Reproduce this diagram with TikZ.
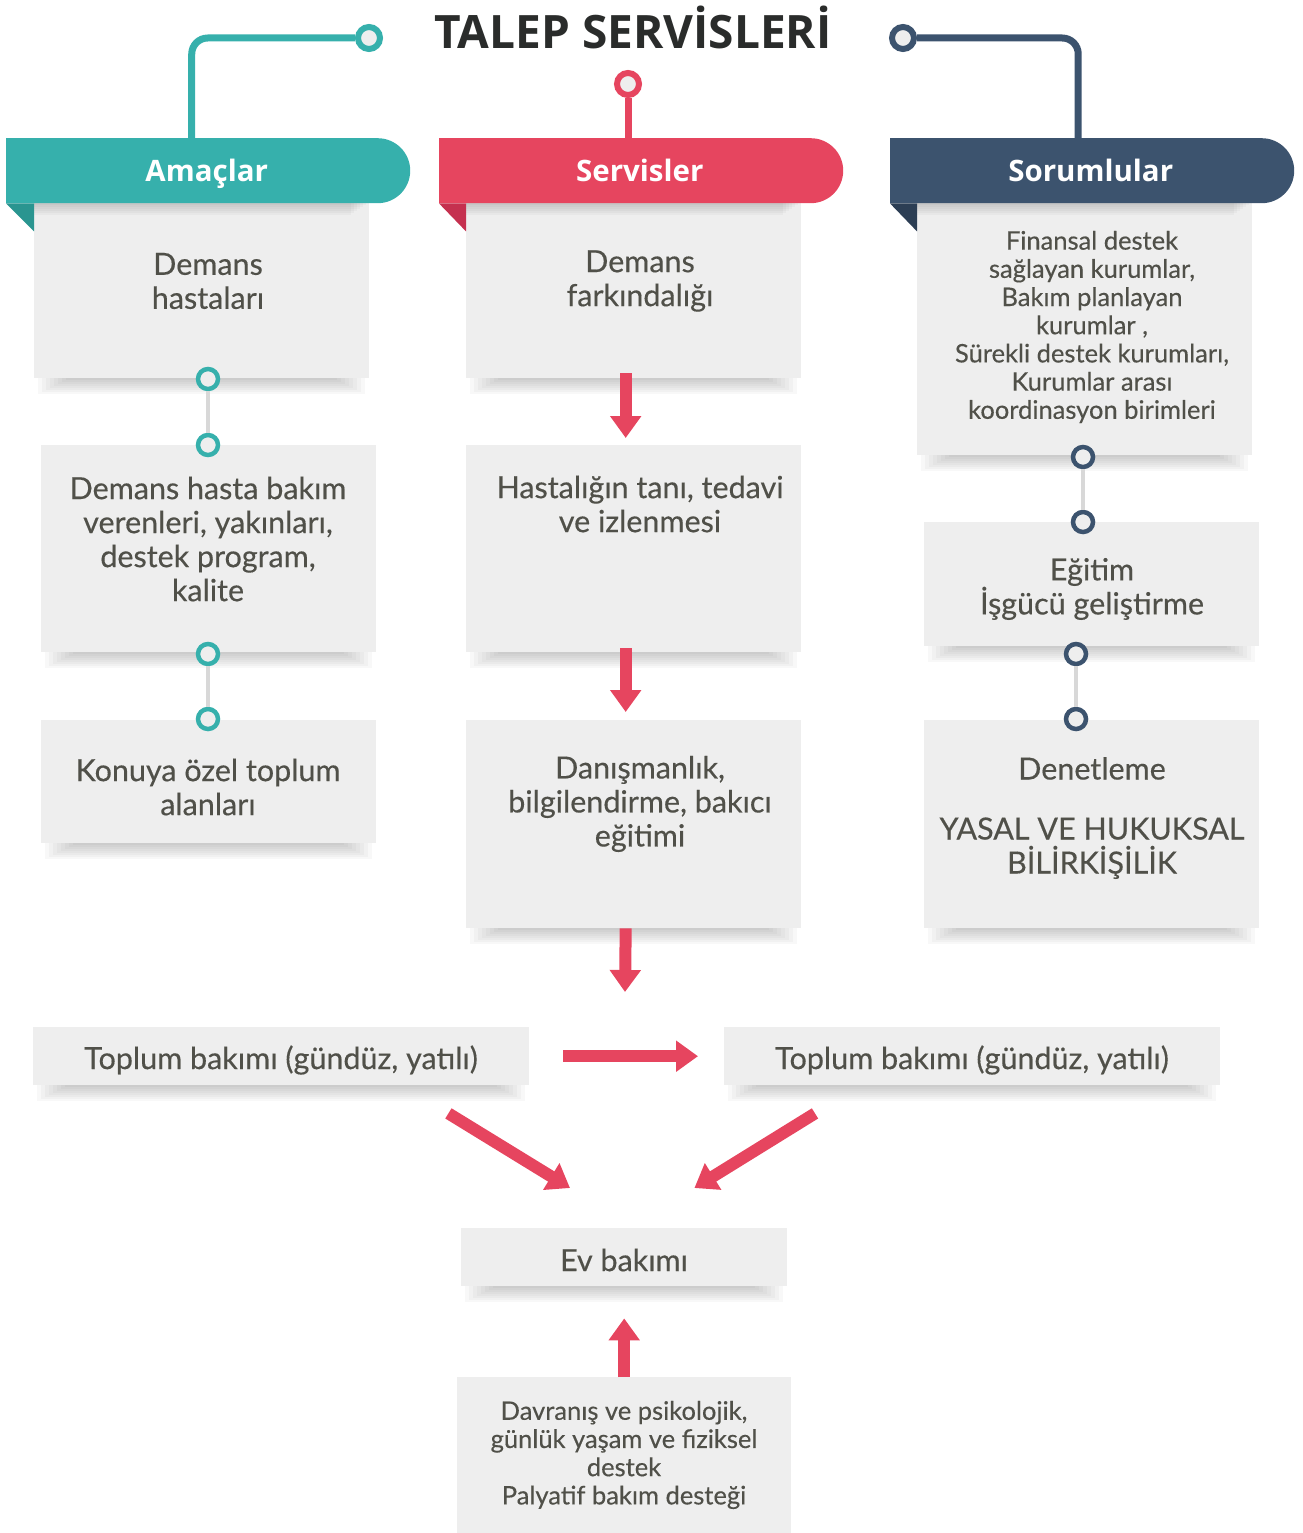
\documentclass[tikz,border=0pt]{standalone}
\usepackage{fontspec}
\setmainfont{Lato}
\newfontfamily\bodyfont{Lato}[FakeBold=0.35]
\newfontfamily\headfont{Open Sans}
\usetikzlibrary{positioning,arrows.meta,shapes.misc}

\definecolor{tealc}{HTML}{36B0AC}
\definecolor{tealdark}{HTML}{2A9590}
\definecolor{redc}{HTML}{E6455F}
\definecolor{reddark}{HTML}{C5304F}
\definecolor{navyc}{HTML}{3C536E}
\definecolor{navydark}{HTML}{2C3E54}
\definecolor{boxgray}{HTML}{EEEEEE}
\definecolor{textgray}{HTML}{505049}
\definecolor{linkgray}{HTML}{D8D8D8}
\definecolor{titlec}{HTML}{2A2C2B}

\tikzset{
  box/.style={fill=boxgray, anchor=north west, inner sep=0pt, minimum width=335pt},
  txt/.style={text=textgray, align=center, inner sep=0pt, font=\bodyfont\fontsize{30.5}{34}\selectfont},
  small txt/.style={txt, font=\bodyfont\fontsize{25.5}{28.2}\selectfont},
  tab/.style={rounded rectangle, rounded rectangle left arc=none, anchor=north west,
    minimum width=404pt, minimum height=65pt, inner sep=0pt, text=white,
    text height=24pt, text depth=3pt,
    font=\headfont\bfseries\fontsize{29.5}{36}\selectfont},
  ring/.style={circle, draw=#1, line width=4.5pt, fill=boxgray, minimum size=20pt, inner sep=0pt},
  top ring/.style={ring=#1, line width=6pt, minimum size=22pt},
  link/.style={draw=linkgray, line width=4pt},
  bigarrow/.style={draw=redc, line width=12pt, -{Triangle[width=30pt,length=22pt]}},
  shadowlayer/.style={fill=black, opacity=0.028},
}

% soft shadow under a box, built from stacked thin layers
\newcommand\shadowbelow[1]{%
  \foreach \i in {1,...,8}
    {\fill[shadowlayer] ([xshift={\i*4pt}]#1.south west) rectangle ([xshift={-\i*4pt},yshift={-(18-2*\i)*1pt}]#1.south east);}}
% shadow of a tab falling on the box top
\newcommand\shadowtop[1]{%
  \foreach \i in {1,...,6}
    {\fill[shadowlayer] (#1.north west) rectangle ([xshift={-\i*3pt},yshift={-(2*\i)*1pt}]#1.north east);}}

\begin{document}
\begin{tikzpicture}[x=1pt,y=-1pt]
  \useasboundingbox (0,0) rectangle (1302,1533);

  %% title
  \node[font=\headfont\bfseries\fontsize{46}{50}\selectfont, text=titlec] (title) at (633,27) {TALEP SERVİSLERİ};

  %% boxes
  \node[box, minimum height=175pt] (am1) at (34,203) {};
  \node[box, minimum height=207pt] (am2) at (41,445) {};
  \node[box, minimum height=123pt] (am3) at (41,720) {};
  \node[box, minimum height=175pt] (se1) at (466,203) {};
  \node[box, minimum height=207pt] (se2) at (466,445) {};
  \node[box, minimum height=208pt] (se3) at (466,720) {};
  \node[box, minimum height=252pt] (so1) at (917,203) {};
  \node[box, minimum height=124pt] (so2) at (924,522) {};
  \node[box, minimum height=208pt] (so3) at (924,720) {};
  \node[box, minimum width=496pt, minimum height=58pt] (cb-l) at (33,1027) {};
  \node[box, minimum width=496pt, minimum height=58pt] (cb-r) at (724,1027) {};
  \node[box, minimum width=326pt, minimum height=58pt] (ev) at (461,1228) {};
  \node[box, minimum width=334pt, minimum height=156pt] (dp) at (457,1377) {};

  \foreach \b in {am1,am2,am3,se1,se2,se3,so1,so2,so3,cb-l,cb-r,ev}
    {\shadowbelow{\b}}
  \foreach \b in {am1,se1,so1}
    {\shadowtop{\b}}

  %% tabs
  \node[tab, fill=tealc] (am-tab) at (6,138) {Amaçlar};
  \fill[tealdark] (am-tab.south west) -- ++(28,0) -- ++(0,28) -- cycle;
  \node[tab, fill=redc] (se-tab) at (439,138) {Servisler};
  \fill[reddark] (se-tab.south west) -- ++(27,0) -- ++(0,28) -- cycle;
  \node[tab, fill=navyc] (so-tab) at (890,138) {Sorumlular};
  \fill[navydark] (so-tab.south west) -- ++(27,0) -- ++(0,28) -- cycle;

  %% top connectors
  \node[top ring=tealc] (am-top) at (369,38) {};
  \draw[tealc, line width=7pt, rounded corners=16pt] (am-top.west) -| ([xshift=-15pt]am-tab.north);
  \node[top ring=redc] (se-top) at (628,84) {};
  \draw[redc, line width=7pt] (se-top.south) -- (se-top |- se-tab.north);
  \node[top ring=navyc] (so-top) at (903,38) {};
  \draw[navyc, line width=7pt, rounded corners=16pt] (so-top.east) -| ([xshift=-12.5pt]so-tab.north);

  %% texts
  \node[txt] (am1-t) at (208,281) {Demans\\hastaları};
  \node[txt] (am2-t) at (208,539) {Demans hasta bakım\\verenleri, yakınları,\\destek program,\\kalite};
  \node[txt] (am3-t) at (208,787) {Konuya özel toplum\\alanları};
  \node[txt] (se1-t) at (640,281) {Demans\\farkındalığı};
  \node[txt] (se2-t) at (640,504) {Hastalığın tanı, tedavi\\ve izlenmesi};
  \node[txt] (se3-t) at (640,804) {Danışmanlık,\\bilgilendirme, bakıcı\\eğitimi};
  \node[small txt] (so1-t) at (1092,327) {Finansal destek\\sağlayan kurumlar,\\Bakım planlayan\\kurumlar ,\\Sürekli destek kurumları,\\Kurumlar arası\\koordinasyon birimleri};
  \node[txt] (so2-t) at (1092,589) {Eğitim\\İşgücü geliştirme};
  \node[txt] (so3-t) at (1092,818) {Denetleme\\[26pt]YASAL VE HUKUKSAL\\BİLİRKİŞİLİK};
  \node[txt] (cb-l-t) at (281,1060) {Toplum bakımı (gündüz, yatılı)};
  \node[txt] (cb-r-t) at (972,1060) {Toplum bakımı (gündüz, yatılı)};
  \node[txt] (ev-t) at (624,1260) {Ev bakımı};
  \node[small txt] (dp-t) at (624,1455) {Davranış ve psikolojik,\\günlük yaşam ve fiziksel\\destek\\Palyatif bakım desteği};

  %% rings between boxes
  \node[ring=tealc] (am-r1) at (208,379) {};
  \node[ring=tealc] (am-r2) at (208,445) {};
  \node[ring=tealc] (am-r3) at (208,654) {};
  \node[ring=tealc] (am-r4) at (208,719) {};
  \draw[link] (am-r1.south) -- (am-r2.north);
  \draw[link] (am-r3.south) -- (am-r4.north);
  \node[ring=navyc] (so-r1) at (1083,457) {};
  \node[ring=navyc] (so-r2) at (1083,522) {};
  \node[ring=navyc] (so-r3) at (1076,654) {};
  \node[ring=navyc] (so-r4) at (1076,719) {};
  \draw[link] (so-r1.south) -- (so-r2.north);
  \draw[link] (so-r3.south) -- (so-r4.north);

  %% red arrows
  \coordinate (split) at (625,992);
  \draw[bigarrow] ([xshift=-8pt,yshift=5pt]se1.south) -- ([xshift=-8pt,yshift=7pt]se2.north);
  \draw[bigarrow] ([xshift=-8pt,yshift=4pt]se2.south) -- ([xshift=-8pt,yshift=8pt]se3.north);
  \draw[bigarrow] ([xshift=-8pt]se3.south) -- (split);
  \draw[bigarrow] ([xshift=34pt]cb-l.east) -- ([xshift=-26pt]cb-r.west);
  \draw[bigarrow] ([xshift=-81pt,yshift=-28pt]cb-l.south east) -- ([xshift=109pt,yshift=40pt]ev.north west);
  \draw[bigarrow] ([xshift=91pt,yshift=-28pt]cb-r.south west) -- ([xshift=-93pt,yshift=40pt]ev.north east);
  \draw[bigarrow] (dp.north) -- ([yshift=-32pt]ev.south);

\end{tikzpicture}
\end{document}
